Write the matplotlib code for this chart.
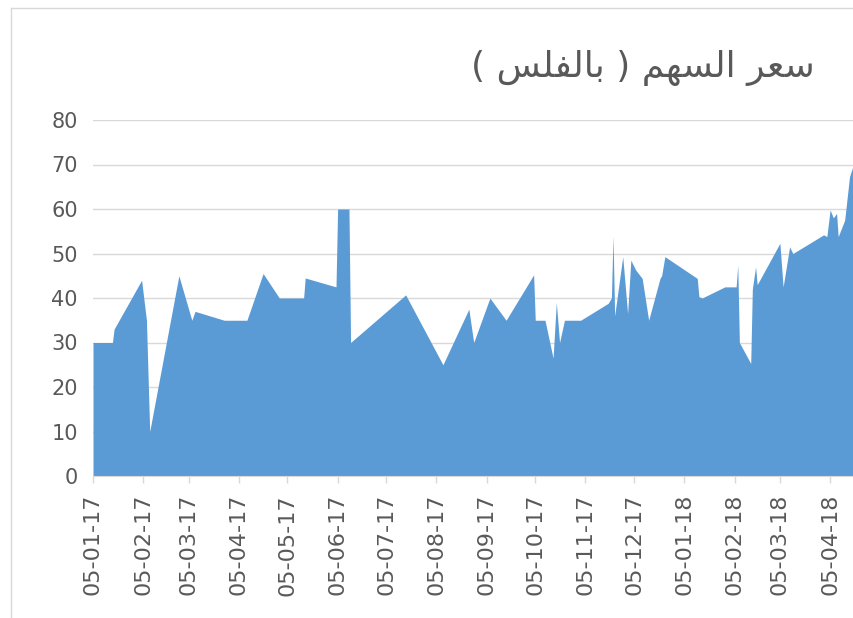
#!/usr/bin/env python

# Share price area chart (Excel style), dates on a day-month-year axis

import datetime as dt
import matplotlib
matplotlib.use('Agg')
import matplotlib.pyplot as plt
import matplotlib.dates as mdates
from matplotlib.lines import Line2D

# title already in visual (left-to-right) order with Arabic presentation forms,
# matplotlib does no bidi / shaping: "سعر السهم ( بالفلس )"
title = ('( ' + '\uFEB2\uFEE0\uFED4\uFEDF\uFE8E\uFE91' + ' ) '
         + '\uFEE2\uFEEC\uFEB4\uFEDF\uFE8D' + ' ' + '\uFEAE\uFECC\uFEB3')

dates = ['2017-01-05', '2017-01-17', '2017-01-18', '2017-02-04', '2017-02-07',
         '2017-02-09', '2017-02-27', '2017-03-07', '2017-03-09', '2017-03-27',
         '2017-04-10', '2017-04-20', '2017-04-30', '2017-05-15', '2017-05-16',
         '2017-06-04', '2017-06-05', '2017-06-12', '2017-06-13', '2017-07-17',
         '2017-08-09', '2017-08-25', '2017-08-28', '2017-09-07', '2017-09-09',
         '2017-09-17', '2017-10-04', '2017-10-05', '2017-10-11', '2017-10-16',
         '2017-10-18', '2017-10-20', '2017-10-23', '2017-11-02', '2017-11-19',
         '2017-11-21', '2017-11-22', '2017-11-23', '2017-11-28', '2017-12-01',
         '2017-12-03', '2017-12-06', '2017-12-10', '2017-12-14', '2017-12-21',
         '2017-12-22', '2017-12-24', '2018-01-13', '2018-01-14', '2018-01-16',
         '2018-01-30', '2018-02-06', '2018-02-07', '2018-02-08', '2018-02-15',
         '2018-02-16', '2018-02-18', '2018-02-19', '2018-03-05', '2018-03-07',
         '2018-03-11', '2018-03-13', '2018-04-01', '2018-04-03', '2018-04-05',
         '2018-04-07', '2018-04-09', '2018-04-10', '2018-04-14', '2018-04-17',
         '2018-04-19', '2018-04-24']
prices = [30, 30, 33, 44, 35,
          10, 45, 35, 37, 35,
          35, 45.5, 40, 40, 44.5,
          42.5, 60, 60, 30, 40.7,
          25, 37.5, 30, 40, 39,
          35, 45.2, 35, 35, 26.5,
          39, 30, 35, 35, 38.8,
          40, 54, 36, 49.3, 36.5,
          48.5, 46.3, 44.4, 35, 44.4,
          45, 49.3, 44.4, 40.3, 40,
          42.5, 42.5, 47.4, 30, 25.3,
          42, 47, 43, 52.3, 42.5,
          51.5, 50, 54.2, 53.8, 59.8,
          58, 59, 53.8, 57.5, 67.3,
          69.5, 71]
y_ticks = [0, 10, 20, 30, 40, 50, 60, 70, 80]

text_col = '#595959'
grid_col = '#d9d9d9'

x = [dt.datetime.strptime(d, '%Y-%m-%d') for d in dates]

fig = plt.figure(figsize=(8.54, 6.18), dpi=100)
W, H = 854.0, 618.0
# plot area runs off the right edge of the picture, like the cropped screenshot
ax = fig.add_axes([93 / W, 1 - 476 / H, (862.5 - 93) / W, (476 - 120) / H])

ax.fill_between(x, prices, 0, color='#5b9bd5', linewidth=0, zorder=2)

ax.set_xlim(dt.datetime(2017, 1, 5), dt.datetime(2018, 4, 25))
ax.set_ylim(0, 80)
ax.set_yticks(y_ticks)
ax.yaxis.grid(True, color=grid_col, linewidth=1)
ax.set_axisbelow(True)

ax.xaxis.set_major_locator(mdates.MonthLocator(bymonthday=5))
ax.xaxis.set_major_formatter(mdates.DateFormatter('%d-%m-%y'))

for s in ['top', 'right', 'left']:
    ax.spines[s].set_visible(False)
ax.spines['bottom'].set_color(grid_col)
ax.spines['bottom'].set_zorder(3)

ax.tick_params(axis='y', length=0, pad=11, labelsize=15, labelcolor=text_col)
ax.tick_params(axis='x', length=5, width=1, color=grid_col, pad=8,
               labelsize=16, labelcolor=text_col, labelrotation=90)

fig.text(815 / W, 1 - 68 / H, title, ha='right', va='center',
         fontsize=26, color=text_col, family='DejaVu Sans')

# chart area border (left and top edges visible in the screenshot)
fig.add_artist(Line2D([11 / W, 11 / W], [0, 1 - 8 / H], transform=fig.transFigure,
                      color=grid_col, linewidth=1))
fig.add_artist(Line2D([11 / W, 1], [1 - 8 / H, 1 - 8 / H], transform=fig.transFigure,
                      color=grid_col, linewidth=1))

fig.savefig('out.png', dpi=100)
